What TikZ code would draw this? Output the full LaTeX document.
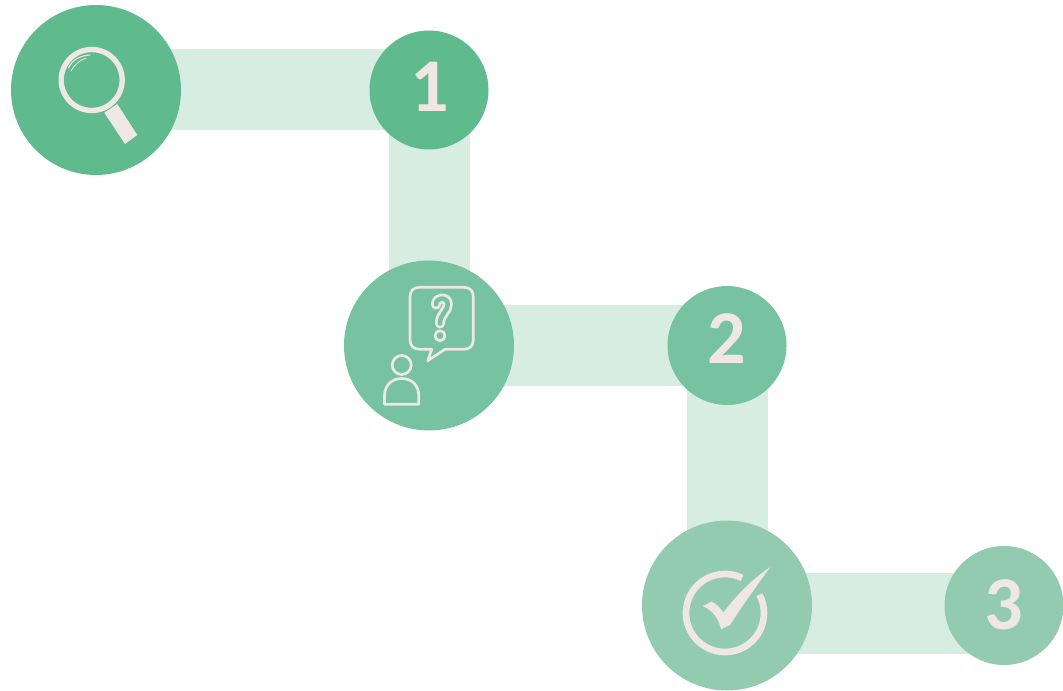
\documentclass[tikz,border=0pt]{standalone}
\usepackage{fontspec}
\setmainfont{Carlito}
\usetikzlibrary{backgrounds}
\definecolor{bandc}{HTML}{D8EDE2}
\definecolor{greenA}{HTML}{5FBA8E}
\definecolor{greenB}{HTML}{77C2A0}
\definecolor{greenC}{HTML}{93CBB1}
\definecolor{creamc}{HTML}{EFE8E2}
\tikzset{
  bigdot/.style={circle,draw=none,minimum size=127.5pt,inner sep=0pt},
  numdot/.style={circle,draw=none,minimum size=89.25pt,inner sep=0pt},
  numtext/.style={inner sep=0pt,text=creamc,font=\bfseries\fontsize{57}{58}\selectfont},
  band/.style={draw=bandc,line width=60.75pt,line join=miter},
  icon/.style={draw=creamc,line width=2pt,line join=round,line cap=round},
  qmark/.style={line cap=round,line join=round}
}
\newcommand{\qpath}{(436,304.5) .. controls (436,300.5) and (439,298.5) .. (442,298.5) .. controls (445.5,298.5) and (447.8,301) .. (447.8,304.5) .. controls (447.8,311) and (440,314) .. (440,323.5)}
\begin{document}
\begin{tikzpicture}[x=0.75pt,y=-0.75pt]
\useasboundingbox (0,0) rectangle (1063,691);
\node[bigdot,fill=greenA] (a) at (96,90) {};
\node[numdot,fill=greenA] (n1) at (429,90) {};
\node[bigdot,fill=greenB] (b) at (429,345.5) {};
\node[numdot,fill=greenB] (n2) at (727,345.5) {};
\node[bigdot,fill=greenC] (c) at (727,605.5) {};
\node[numdot,fill=greenC] (n3) at (1004,605.5) {};
\node[numtext] (t1) at (430,87.2) {1};
\node[numtext] (t2) at (726.7,339) {2};
\node[numtext] (t3) at (1004,604.5) {3};
\coordinate (c3) at (727,613.5);
\coordinate (e3) at (1004,613.5);
\begin{scope}[on background layer]
\draw[band] (a.center) -- (n1.center) -- (b.center) -- (n2.center) -- (c.center);
\draw[band] (c3) -- (e3);
\end{scope}
% magnifier
\draw[icon,line width=4pt] (91.7,80) circle (30.5);
\fill[creamc] (104.3,112.7) -- (117.3,104) -- (137.3,135) -- (125,144) -- cycle;
\draw[icon,line width=0.8pt] (68.5,68) .. controls (72,60) and (80,55.5) .. (90,55);
\draw[icon,line width=0.6pt] (71,71) .. controls (74,65) and (80,60) .. (86,58);
% question bubble
\draw[icon] (420,287.3) -- (463.5,287.3) .. controls (470,287.3) and (473.3,290.5) .. (473.3,297) -- (473.3,339.5) .. controls (473.3,346) and (470,349.3) .. (463.5,349.3) -- (445,349.3) -- (427.7,360.7) -- (431.7,349.3) -- (420,349.3) .. controls (413.5,349.3) and (410,346) .. (410,339.5) -- (410,297) .. controls (410,290.5) and (413.5,287.3) .. (420,287.3) -- cycle;
\draw[creamc,line width=7.6pt,qmark] \qpath;
\draw[greenB,line width=3.4pt,qmark] \qpath;
\draw[icon] (440,335.7) circle (5);
% person
\draw[icon] (401.7,365) circle (9.5);
\draw[icon] (384.5,404.3) -- (384.5,396) .. controls (384.5,385) and (392,378.5) .. (401.7,378.5) .. controls (411.5,378.5) and (418.8,385) .. (418.8,396) -- (418.8,404.3) -- cycle;
% check
\coordinate (ringc) at (725,613);
\draw[draw=creamc,line width=5pt,line cap=butt] (ringc) ++(-64:39) arc[start angle=-64,end angle=-388,radius=39];
\fill[creamc] (702.7,606) -- (711.7,601.7) .. controls (716,603.5) and (720,607.5) .. (723.3,612.7) .. controls (735,597) and (752,579) .. (770,567.3) .. controls (758,584) and (742,606) .. (730,625) -- (721,629.3) .. controls (719,620) and (714,611) .. (702.7,606) -- cycle;
\end{tikzpicture}
\end{document}
